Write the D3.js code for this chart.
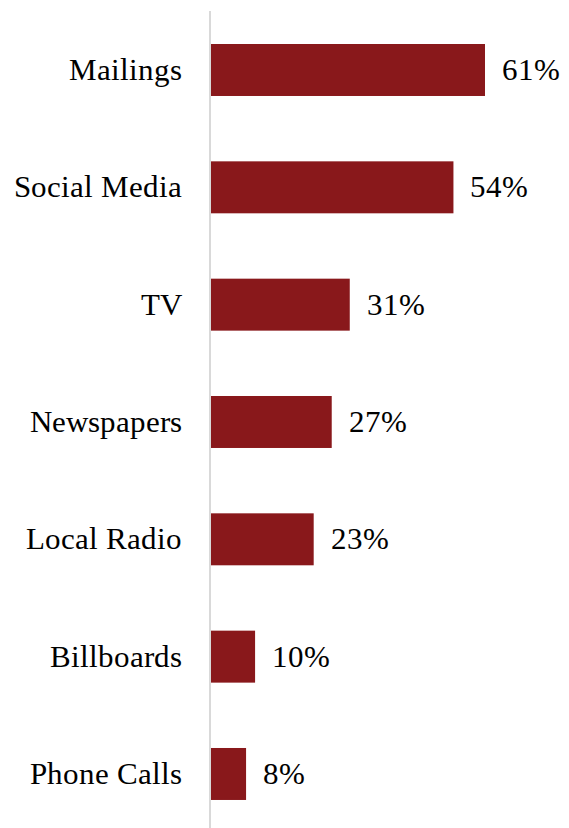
<!DOCTYPE html>
<html>
<head>
<meta charset="utf-8">
<script src="https://cdn.jsdelivr.net/npm/d3@7"></script>
<style>
  @font-face {
    font-family: "ChartSerif";
    src: local("Liberation Serif"), local("LiberationSerif"), local("LiberationSerif-Regular"), local("Times New Roman");
  }
  html, body { margin: 0; padding: 0; background: #ffffff; }
  svg { display: block; }
</style>
</head>
<body>
<svg id="chart" width="569" height="828"></svg>
<script>
// Share of respondents reached by each channel
const categories = ["Mailings", "Social Media", "TV", "Newspapers", "Local Radio", "Billboards", "Phone Calls"];
const values = [61, 54, 31, 27, 23, 10, 8];
const valueLabels = ["61%", "54%", "31%", "27%", "23%", "10%", "8%"];

const height = 828;
const axisX = 210;
const fontStack = "ChartSerif, 'Liberation Serif', 'Times New Roman', serif";
const svg = d3.select("#chart");

const x = d3.scaleLinear().domain([0, 61]).range([axisX, 485]);

const step = 117.33;
const y = d3.scaleBand()
  .domain(categories)
  .range([11.33, 11.33 + step * categories.length])
  .paddingInner(0.557)
  .paddingOuter(0.2785);

const fontSize = 31;

// Bars
svg.append("g").selectAll("rect")
  .data(categories)
  .join("rect")
  .attr("x", x(0))
  .attr("y", d => y(d))
  .attr("width", (d, i) => x(values[i]) - x(0))
  .attr("height", y.bandwidth())
  .attr("fill", "#89181b");

// Vertical category axis line
svg.append("line")
  .attr("x1", axisX).attr("x2", axisX)
  .attr("y1", 11).attr("y2", height)
  .attr("stroke", "#d9d9d9")
  .attr("stroke-width", 2);

// Category labels
svg.append("g").selectAll("text")
  .data(categories)
  .join("text")
  .attr("x", axisX - 28)
  .attr("y", d => y(d) + y.bandwidth() / 2 + 10)
  .attr("text-anchor", "end")
  .style("font-family", fontStack)
  .style("font-size", fontSize + "px")
  .text(d => d);

// Value labels
svg.append("g").selectAll("text")
  .data(categories)
  .join("text")
  .attr("x", (d, i) => x(values[i]) + 17)
  .attr("y", d => y(d) + y.bandwidth() / 2 + 10)
  .attr("text-anchor", "start")
  .style("font-family", fontStack)
  .style("font-size", fontSize + "px")
  .text((d, i) => valueLabels[i]);
</script>
</body>
</html>
